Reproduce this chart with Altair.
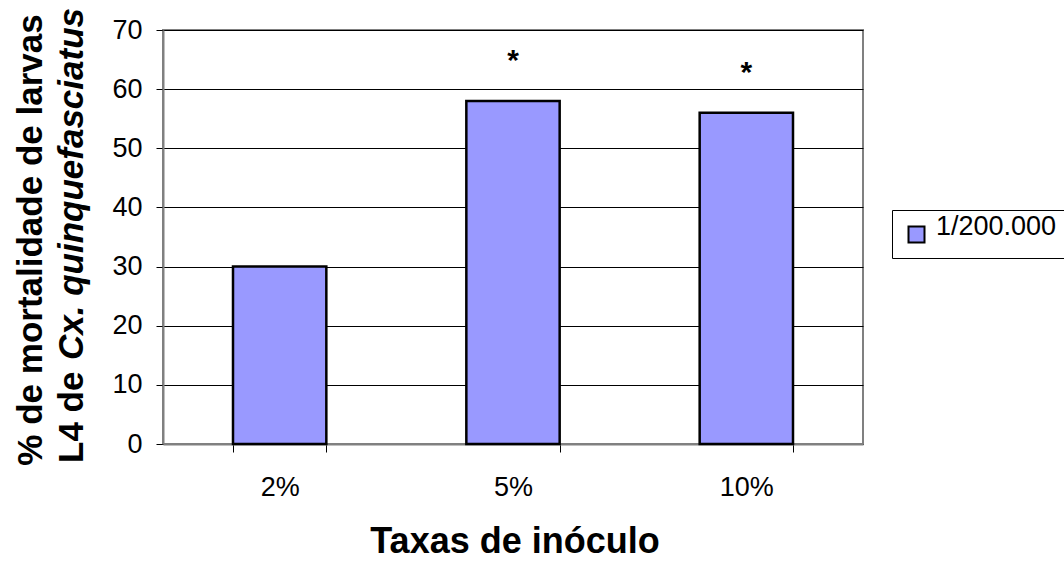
import altair as alt
import pandas as pd

# Mortality of L4 larvae per inoculum rate
categories = ["2%", "5%", "10%"]
mortality = [30, 58, 56]
significance = ["", "*", "*"]
series_name = "1/200.000"

y_ticks = [0, 10, 20, 30, 40, 50, 60, 70]

x_title = "Taxas de inóculo"
y_title_line1 = "% de mortalidade de larvas"
y_title_line2a = "L4 de "
y_title_line2b = "Cx. quinquefasciatus"

df = pd.DataFrame({
    "taxa": categories,
    "mortalidade": mortality,
    "sig": significance,
    "serie": [series_name] * len(categories),
})

x_enc = alt.X(
    "taxa:N",
    sort=categories,
    scale=alt.Scale(paddingInner=0.6, paddingOuter=0.3),
    axis=alt.Axis(
        title=None,
        labelAngle=0,
        tickBand="extent",
        tickSize=8,
        labelPadding=43,
        labelBaseline="alphabetic",
        grid=False,
    ),
)
y_enc = alt.Y(
    "mortalidade:Q",
    scale=alt.Scale(domain=[0, 70], nice=False),
    axis=alt.Axis(
        title=None,
        values=y_ticks,
        tickSize=7,
        labelPadding=14,
        grid=True,
    ),
)

bars = alt.Chart(df).mark_bar(stroke="black", strokeWidth=2.5).encode(
    x=x_enc,
    y=y_enc,
    color=alt.Color(
        "serie:N",
        scale=alt.Scale(range=["#9999FF"]),
        legend=alt.Legend(
            title=None,
            orient="none",
            legendX=729,
            legendY=180,
            padding=11,
            strokeColor="black",
            symbolType="square",
            symbolSize=256,
            symbolStrokeColor="black",
            symbolStrokeWidth=2,
            symbolOpacity=1,
            labelFont="Liberation Sans",
            labelFontSize=27,
            labelColor="black",
            labelOffset=6,
            labelBaseline="alphabetic",
        ),
    ),
)

stars = alt.Chart(df).mark_text(
    font="Liberation Sans", fontSize=30, fontWeight="bold", color="black",
    baseline="alphabetic", dy=-31,
).encode(
    x=alt.X("taxa:N", sort=categories),
    y=alt.Y("mortalidade:Q"),
    text="sig:N",
)

def label(text, x, y, size=35, **style):
    return alt.Chart(pd.DataFrame({"t": [text]})).mark_text(
        font="Liberation Sans", fontSize=size, fontWeight="bold",
        color="black", baseline="alphabetic", **style
    ).encode(x=alt.value(x), y=alt.value(y), text="t:N")

title_x = label(x_title, 352, 523, size=36, align="center")
title_y1 = label(y_title_line1, -121, 210, align="center", angle=270)
title_y2a = label(y_title_line2a, -80, 433, align="left", angle=270)
title_y2b = label(y_title_line2b, -80, 330, align="left", angle=270,
                  fontStyle="italic")

chart = alt.layer(
    bars, stars, title_x, title_y1, title_y2a, title_y2b
).properties(
    width=700,
    height=414,
    autosize=alt.AutoSizeParams(type="none"),
    padding={"left": 163, "top": 30, "right": 201, "bottom": 117},
    background="white",
).configure_view(
    stroke="#808080",
    strokeWidth=2,
).configure_axis(
    domainColor="#808080",
    domainWidth=2,
    tickColor="black",
    tickWidth=1,
    gridColor="black",
    gridWidth=1,
    gridOpacity=1,
    labelFont="Liberation Sans",
    labelFontSize=27,
    labelColor="black",
)

chart.save("out.html", embed_options={"renderer": "svg", "actions": False})
